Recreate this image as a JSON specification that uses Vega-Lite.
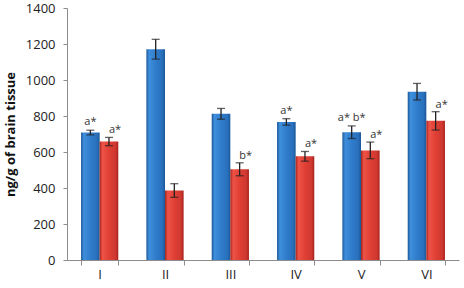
{
  "$schema": "https://vega.github.io/schema/vega-lite/v6.json",
  "width": 392,
  "height": 252,
  "autosize": "none",
  "padding": {"left": 67, "top": 8, "right": 5, "bottom": 28},
  "background": "white",
  "config": {
    "view": {"stroke": null},
    "font": "Open Sans",
    "axis": {"grid": false, "domainColor": "#8c8c8c", "tickColor": "#8c8c8c", "labelColor": "#222222", "labelFont": "Open Sans", "labelFontSize": 13, "titleFont": "Open Sans"}
  },
  "data": {
    "values": [
      {"group": "I", "series": "A", "value": 708, "lo": 695, "hi": 721, "label": "a*"},
      {"group": "I", "series": "B", "value": 658, "lo": 635, "hi": 681, "label": "a*"},
      {"group": "II", "series": "A", "value": 1171, "lo": 1116, "hi": 1226, "label": ""},
      {"group": "II", "series": "B", "value": 386, "lo": 348, "hi": 424, "label": ""},
      {"group": "III", "series": "A", "value": 812, "lo": 782, "hi": 842, "label": ""},
      {"group": "III", "series": "B", "value": 504, "lo": 468, "hi": 540, "label": "b*"},
      {"group": "IV", "series": "A", "value": 767, "lo": 749, "hi": 785, "label": "a*"},
      {"group": "IV", "series": "B", "value": 576, "lo": 549, "hi": 603, "label": "a*"},
      {"group": "V", "series": "A", "value": 710, "lo": 675, "hi": 745, "label": "a* b*"},
      {"group": "V", "series": "B", "value": 609, "lo": 563, "hi": 655, "label": "a*"},
      {"group": "VI", "series": "A", "value": 935, "lo": 889, "hi": 981, "label": ""},
      {"group": "VI", "series": "B", "value": 773, "lo": 722, "hi": 824, "label": "a*"}
    ]
  },
  "encoding": {
    "x": {
      "field": "group", "type": "nominal", "sort": null,
      "scale": {"paddingInner": 0.43, "paddingOuter": 0.215},
      "axis": {"title": null, "labelAngle": 0, "tickBand": "extent", "tickSize": 5, "labelPadding": 3, "labelFontSize": 13}
    },
    "xOffset": {"field": "series", "type": "nominal", "scale": {"paddingInner": 0}},
    "y": {
      "field": "value", "type": "quantitative",
      "scale": {"domain": [0, 1400], "nice": false},
      "axis": {"values": [0, 200, 400, 600, 800, 1000, 1200, 1400], "format": "d", "title": "ng/g of brain tissue", "titleFontWeight": "bold", "titleFontSize": 13, "titleColor": "#111111", "tickSize": 4, "labelPadding": 8, "titleX": -57, "titleY": 126, "titleBaseline": "middle", "titleAngle": -90}
    }
  },
  "layer": [
    {
      "transform": [{"filter": "datum.series === 'A'"}],
      "mark": {"type": "bar", "fill": {"gradient": "linear", "x1": 0, "x2": 1, "y1": 0, "y2": 0, "stops": [{"offset": 0, "color": "#1B5799"}, {"offset": 0.15, "color": "#3F8FDC"}, {"offset": 0.5, "color": "#2F7CCB"}, {"offset": 0.85, "color": "#2970BC"}, {"offset": 1, "color": "#1B5799"}]}}
    },
    {
      "transform": [{"filter": "datum.series === 'B'"}],
      "mark": {"type": "bar", "fill": {"gradient": "linear", "x1": 0, "x2": 1, "y1": 0, "y2": 0, "stops": [{"offset": 0, "color": "#A8231C"}, {"offset": 0.15, "color": "#EE5347"}, {"offset": 0.5, "color": "#E03F34"}, {"offset": 0.85, "color": "#CF3830"}, {"offset": 1, "color": "#A8231C"}]}}
    },
    {
      "mark": {"type": "rule", "color": "#222222", "strokeWidth": 1.3},
      "encoding": {"y": {"field": "lo", "type": "quantitative"}, "y2": {"field": "hi"}}
    },
    {
      "mark": {"type": "tick", "color": "#222222", "thickness": 1.3, "size": 8},
      "encoding": {"y": {"field": "hi", "type": "quantitative"}}
    },
    {
      "mark": {"type": "tick", "color": "#222222", "thickness": 1.3, "size": 8},
      "encoding": {"y": {"field": "lo", "type": "quantitative"}}
    },
    {
      "transform": [{"filter": "datum.series === 'A'"}],
      "mark": {"type": "text", "baseline": "bottom", "dy": -3, "fontSize": 11, "color": "#333333"},
      "encoding": {"y": {"field": "hi", "type": "quantitative"}, "text": {"field": "label"}}
    },
    {
      "transform": [{"filter": "datum.series === 'B'"}],
      "mark": {"type": "text", "baseline": "bottom", "dy": -2, "dx": 6, "fontSize": 11, "color": "#333333"},
      "encoding": {"y": {"field": "hi", "type": "quantitative"}, "text": {"field": "label"}}
    }
  ]
}
